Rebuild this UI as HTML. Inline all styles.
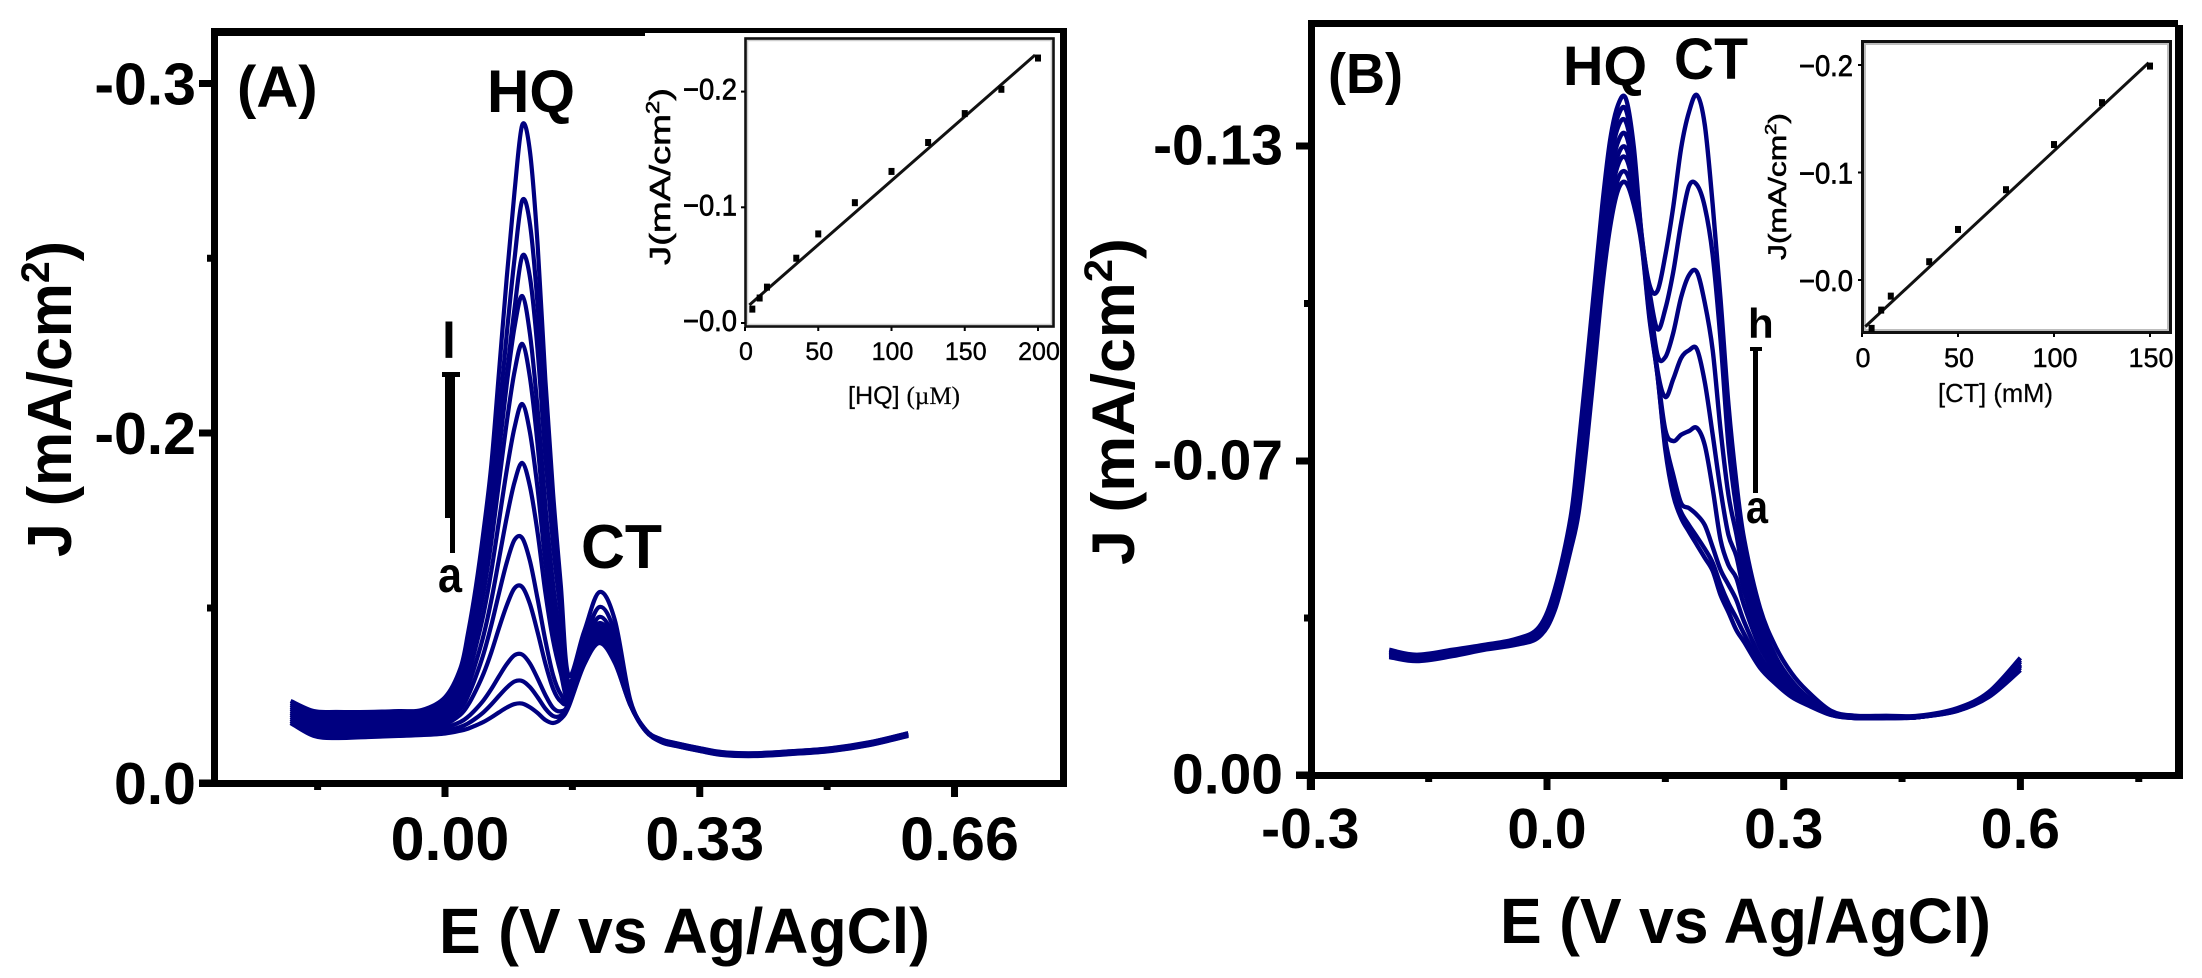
<!DOCTYPE html>
<html lang="en">
<head>
<meta charset="utf-8">
<title>Voltammograms of HQ and CT</title>
<style>
html,body{margin:0;padding:0;background:#fff;}
svg{display:block;}
text{font-family:"Liberation Sans",sans-serif;fill:#000;}
.b{font-weight:bold;}
</style>
</head>
<body>
<svg id="fig" xmlns="http://www.w3.org/2000/svg" width="2202" height="978" viewBox="0 0 2202 978">
  <rect x="0" y="0" width="2202" height="978" fill="#fff"/>

  <g id="panelA">
    <g id="curvesA"></g>
    <rect x="211" y="28" width="7" height="759" fill="#000"/>
    <rect x="1060" y="28" width="7" height="759" fill="#000"/>
    <rect x="211" y="28" width="434" height="8" fill="#000"/>
    <rect x="645" y="28" width="422" height="5" fill="#000"/>
    <rect x="199" y="780" width="868" height="7" fill="#000"/>
    <g id="ticksA"></g>
    <text class="b" x="237" y="107" font-size="58">(A)</text>
    <text class="b" x="487" y="112" font-size="60" textLength="88" lengthAdjust="spacingAndGlyphs">HQ</text>
    <text class="b" x="581" y="568" font-size="62" textLength="81" lengthAdjust="spacingAndGlyphs">CT</text>
    <text class="b" x="449" y="358" font-size="50" text-anchor="middle">l</text>
    <text class="b" x="438" y="592" font-size="50" textLength="24" lengthAdjust="spacingAndGlyphs">a</text>
    <g>
      <rect x="445" y="374" width="10" height="144" fill="#000"/>
      <rect x="450" y="518" width="5" height="35" fill="#000"/>
      <rect x="442" y="372" width="18" height="5" fill="#000"/>
    </g>
    <text class="b" transform="translate(71 557) rotate(-90)" font-size="62" textLength="316" lengthAdjust="spacingAndGlyphs">J (mA/cm<tspan font-size="40" dy="-22">2</tspan><tspan dy="22">)</tspan></text>
    <text class="b" x="439" y="953" font-size="64" textLength="491" lengthAdjust="spacingAndGlyphs">E (V vs Ag/AgCl)</text>
  </g>

  <g id="insetA">
    <rect x="747.5" y="40.5" width="304" height="284" fill="none" stroke="#cfcfcf" stroke-width="1.5"/>
    <rect x="745.5" y="38.5" width="308" height="288" fill="none" stroke="#111" stroke-width="2.6"/>
    <g id="plotInsetA"></g>
    <text transform="translate(670 265) rotate(-90)" font-size="29" textLength="177" lengthAdjust="spacingAndGlyphs" stroke="#000" stroke-width="0.6">J(mA/cm<tspan font-size="18" dy="-11">2</tspan><tspan dy="11">)</tspan></text>
    <text x="848" y="404" font-size="25" textLength="112" lengthAdjust="spacingAndGlyphs" fill="#222" stroke="#222" stroke-width="0.3">[HQ] <tspan style="font-family:'Liberation Serif',serif">(µM)</tspan></text>
  </g>

  <g id="panelB">
    <g id="curvesB"></g>
    <rect x="1308" y="20" width="7" height="770" fill="#000"/>
    <rect x="2175" y="25" width="8" height="754" fill="#000"/>
    <rect x="1308" y="20" width="870" height="7" fill="#000"/>
    <rect x="1296" y="772" width="887" height="7" fill="#000"/>
    <g id="ticksB"></g>
    <text class="b" x="1328" y="93" font-size="57" textLength="75" lengthAdjust="spacingAndGlyphs">(B)</text>
    <text class="b" x="1563" y="85" font-size="56" textLength="84" lengthAdjust="spacingAndGlyphs">HQ</text>
    <text class="b" x="1674" y="79" font-size="58" textLength="74" lengthAdjust="spacingAndGlyphs">CT</text>
    <text class="b" x="1748" y="338" font-size="42">h</text>
    <text class="b" x="1746" y="523" font-size="46" textLength="22" lengthAdjust="spacingAndGlyphs">a</text>
    <g>
      <rect x="1753" y="348" width="5" height="145" fill="#000"/>
      <rect x="1750" y="347" width="12" height="4" fill="#000"/>
    </g>
    <text class="b" transform="translate(1134 565) rotate(-90)" font-size="60" textLength="327" lengthAdjust="spacingAndGlyphs">J (mA/cm<tspan font-size="40" dy="-22">2</tspan><tspan dy="22">)</tspan></text>
    <text class="b" x="1500" y="943" font-size="64" textLength="491" lengthAdjust="spacingAndGlyphs">E (V vs Ag/AgCl)</text>
  </g>

  <g id="insetB">
    <rect x="1865" y="44" width="303" height="286" fill="none" stroke="#bdbdbd" stroke-width="2"/>
    <rect x="1862.5" y="41.5" width="308" height="291" fill="none" stroke="#111" stroke-width="3"/>
    <g id="plotInsetB"></g>
    <text transform="translate(1786 260) rotate(-90)" font-size="25" textLength="147" lengthAdjust="spacingAndGlyphs" stroke="#000" stroke-width="0.6">J(mA/cm<tspan font-size="16" dy="-10">2</tspan><tspan dy="10">)</tspan></text>
    <text x="1938" y="402" font-size="26" textLength="115" lengthAdjust="spacingAndGlyphs" fill="#222" stroke="#222" stroke-width="0.3">[CT] (mM)</text>
  </g>
</svg>

<script>
/* ---------- Panel A data: potential (V) and |J| (mA/cm2) for curves a..l ---------- */
const eA = [-0.2,-0.17,-0.14,-0.1,-0.06,-0.03,0,0.02,0.03,0.04,0.05,0.06,0.07,0.08,0.09,0.1,0.11,0.12,0.13,0.14,0.15,0.16,0.18,0.2,0.22,0.24,0.26,0.28,0.3,0.33,0.36,0.4,0.45,0.5,0.55,0.6];
const curveA_a = [.0343,.0269,.0257,.0263,.0269,.0274,.0283,.0299,.0311,.0329,.0349,.0375,.0404,.0431,.0451,.0454,.0433,.0400,.0360,.0343,.0366,.0434,.0674,.0800,.0686,.0446,.0297,.0234,.0211,.0183,.0160,.0154,.0166,.0183,.0217,.0269];
const curveA_b = [.0354,.0280,.0269,.0274,.0280,.0286,.0297,.0321,.0341,.0370,.0405,.0449,.0498,.0545,.0580,.0583,.0548,.0490,.0425,.0383,.0385,.0442,.0678,.0806,.0691,.0446,.0297,.0235,.0212,.0184,.0161,.0155,.0167,.0184,.0218,.0270];
const curveA_c = [.0366,.0297,.0286,.0291,.0297,.0303,.0317,.0349,.0379,.0422,.0473,.0537,.0610,.0679,.0730,.0734,.0683,.0597,.0503,.0429,.0410,.0451,.0686,.0817,.0701,.0447,.0297,.0237,.0214,.0186,.0163,.0157,.0169,.0186,.0220,.0272];
const curveA_d = [.0377,.0309,.0297,.0303,.0309,.0314,.0336,.0391,.0447,.0529,.0626,.0747,.0886,.1015,.1113,.1120,.1023,.0861,.0683,.0539,.0466,.0470,.0691,.0829,.0709,.0449,.0297,.0238,.0215,.0187,.0164,.0158,.0170,.0187,.0221,.0273];
const curveA_e = [.0389,.0320,.0309,.0314,.0320,.0326,.0353,.0424,.0500,.0609,.0739,.0902,.1086,.1260,.1389,.1400,.1269,.1051,.0815,.0617,.0507,.0483,.0701,.0840,.0720,.0450,.0297,.0240,.0217,.0189,.0166,.0160,.0172,.0189,.0223,.0275];
const curveA_f = [.0400,.0331,.0320,.0326,.0331,.0337,.0373,.0458,.0556,.0689,.0845,.1044,.1281,.1518,.1718,.1829,.1695,.1429,.1089,.0816,.0627,.0490,.0711,.0857,.0734,.0451,.0300,.0241,.0218,.0190,.0167,.0161,.0173,.0190,.0224,.0276];
const curveA_g = [.0411,.0349,.0337,.0343,.0349,.0354,.0396,.0499,.0618,.0780,.0969,.1211,.1500,.1788,.2015,.2083,.2002,.1680,.1266,.0930,.0689,.0505,.0723,.0874,.0749,.0453,.0300,.0243,.0220,.0192,.0169,.0163,.0175,.0192,.0226,.0278];
const curveA_h = [.0423,.0360,.0349,.0354,.0360,.0366,.0414,.0535,.0675,.0867,.1091,.1379,.1720,.2031,.2175,.2255,.2159,.1933,.1443,.1045,.0753,.0520,.0734,.0891,.0763,.0455,.0300,.0244,.0221,.0193,.0170,.0164,.0176,.0193,.0227,.0279];
const curveA_i = [.0434,.0371,.0360,.0366,.0371,.0377,.0431,.0566,.0724,.0939,.1191,.1514,.1897,.2140,.2302,.2392,.2284,.2068,.1586,.1137,.0803,.0535,.0749,.0914,.0783,.0457,.0303,.0246,.0223,.0195,.0172,.0166,.0178,.0195,.0229,.0281];
const curveA_j = [.0446,.0383,.0371,.0377,.0383,.0389,.0447,.0578,.0738,.0943,.1194,.1489,.1906,.2164,.2355,.2506,.2446,.2236,.1869,.1362,.0960,.0552,.0771,.0949,.0811,.0461,.0303,.0247,.0224,.0196,.0173,.0167,.0179,.0196,.0230,.0282];
const curveA_k = [.0457,.0400,.0389,.0394,.0400,.0406,.0470,.0616,.0794,.1023,.1303,.1631,.2048,.2284,.2497,.2665,.2599,.2365,.2028,.1488,.1033,.0578,.0808,.1006,.0861,.0466,.0303,.0249,.0226,.0198,.0175,.0169,.0181,.0198,.0232,.0284];
const curveA_l = [.0469,.0411,.0406,.0406,.0411,.0417,.0490,.0656,.0861,.1122,.1443,.1818,.2176,.2445,.2689,.2881,.2806,.2538,.2152,.1655,.1130,.0617,.0863,.1091,.0931,.0474,.0303,.0250,.0227,.0199,.0176,.0170,.0182,.0199,.0233,.0285];
const seriesA = [curveA_a,curveA_b,curveA_c,curveA_d,curveA_e,curveA_f,curveA_g,curveA_h,curveA_i,curveA_j,curveA_k,curveA_l];
const seriesLabelsA = ['a','b','c','d','e','f','g','h','i','j','k','l'];
const xTicksA = [0,0.33,0.66];
const xTickLabelsA = ['0.00','0.33','0.66'];
const xMinorA = [-0.165,0.165,0.495];
const yTicksA = [0,0.2,0.3];
const yTickLabelsA = ['0.0','-0.2','-0.3'];
const yMinorA = [0.1,0.25];

/* ---------- Panel B data: potential (V) and |J| (mA/cm2) for curves a..h ---------- */
const eB = [-0.2,-0.165,-0.12,-0.08,-0.04,-0.01,0.01,0.03,0.04,0.05,0.06,0.07,0.08,0.09,0.1,0.11,0.12,0.13,0.14,0.15,0.16,0.17,0.18,0.19,0.2,0.21,0.22,0.23,0.24,0.25,0.27,0.29,0.31,0.33,0.36,0.39,0.43,0.47,0.52,0.56,0.6];
const curveB_a = [.0263,.0254,.0265,.0279,.0290,.0308,.0368,.0502,.0584,.0727,.0877,.1031,.1146,.1216,.1230,.1188,.1111,.0969,.0864,.0721,.0624,.0573,.0542,.0513,.0484,.0455,.0401,.0363,.0323,.0296,.0239,.0203,.0174,.0156,.0134,.0127,.0127,.0129,.0143,.0174,.0234];
const curveB_b = [.0265,.0256,.0268,.0281,.0292,.0310,.0375,.0511,.0604,.0746,.0898,.1052,.1167,.1237,.1250,.1203,.1115,.0974,.0864,.0727,.0635,.0586,.0557,.0531,.0504,.0473,.0424,.0383,.0350,.0314,.0250,.0210,.0178,.0158,.0134,.0127,.0127,.0129,.0143,.0176,.0239];
const curveB_c = [.0268,.0259,.0270,.0283,.0294,.0314,.0381,.0524,.0629,.0772,.0923,.1077,.1195,.1264,.1277,.1220,.1117,.0982,.0866,.0740,.0669,.0606,.0595,.0580,.0557,.0508,.0457,.0424,.0390,.0341,.0265,.0218,.0183,.0161,.0136,.0127,.0127,.0129,.0145,.0176,.0243];
const curveB_d = [.0270,.0261,.0272,.0283,.0296,.0317,.0388,.0533,.0646,.0790,.0942,.1096,.1216,.1283,.1296,.1233,.1119,.0988,.0868,.0759,.0738,.0750,.0757,.0763,.0730,.0638,.0524,.0468,.0439,.0377,.0285,.0230,.0187,.0163,.0136,.0129,.0129,.0129,.0145,.0178,.0245];
const curveB_e = [.0272,.0263,.0272,.0285,.0296,.0321,.0395,.0544,.0669,.0812,.0965,.1119,.1241,.1308,.1321,.1250,.1123,.0997,.0873,.0822,.0856,.0896,.0911,.0913,.0850,.0750,.0635,.0535,.0488,.0410,.0305,.0241,.0196,.0167,.0138,.0129,.0129,.0129,.0145,.0178,.0247];
const curveB_f = [.0274,.0263,.0274,.0288,.0299,.0323,.0401,.0555,.0691,.0837,.0990,.1144,.1268,.1336,.1346,.1268,.1125,.1009,.0902,.0898,.0944,.1012,.1054,.1060,.1001,.0911,.0759,.0624,.0537,.0444,.0325,.0252,.0205,.0172,.0140,.0129,.0129,.0129,.0147,.0181,.0252];
const curveB_g = [.0276,.0265,.0276,.0288,.0301,.0328,.0408,.0566,.0710,.0858,.1010,.1165,.1291,.1357,.1369,.1283,.1129,.1022,.0951,.0990,.1060,.1153,.1224,.1226,.1184,.1092,.0930,.0730,.0593,.0484,.0348,.0263,.0210,.0174,.0140,.0132,.0129,.0129,.0147,.0183,.0256];
const curveB_h = [.0279,.0268,.0279,.0290,.0303,.0330,.0415,.0575,.0727,.0877,.1031,.1186,.1311,.1378,.1390,.1298,.1130,.1035,.1024,.1092,.1184,.1296,.1365,.1397,.1340,.1188,.1007,.0807,.0653,.0524,.0372,.0285,.0227,.0187,.0143,.0132,.0132,.0132,.0149,.0185,.0261];
const seriesB = [curveB_a,curveB_b,curveB_c,curveB_d,curveB_e,curveB_f,curveB_g,curveB_h];
const seriesLabelsB = ['a','b','c','d','e','f','g','h'];
const xTicksB = [-0.3,0,0.3,0.6];
const xTickLabelsB = ['-0.3','0.0','0.3','0.6'];
const xMinorB = [-0.15,0.15,0.45,0.75];
const yTicksB = [0,0.07,0.13];
const yTickLabelsB = ['0.00','-0.07','-0.13'];
const yMinorB = [0.035,0.1];

/* ---------- Inset A data: calibration for HQ ---------- */
const concA = [5,10,15,35,50,75,100,125,150,175,200];
const jInsetA = [-0.012,-0.0216,-0.031,-0.056,-0.077,-0.104,-0.131,-0.156,-0.181,-0.202,-0.229];
const fitConcA = [3,198];
const fitJA = [-0.0156,-0.2316];
const insetXTicksA = [0,50,100,150,200];
const insetYTicksA = [0,-0.1,-0.2];
const insetYLabelsA = ['\u22120.0','\u22120.1','\u22120.2'];

/* ---------- Inset B data: calibration for CT ---------- */
const concB = [5,10,15,35,50,75,100,125,150];
const jInsetB = [0.045,0.028,0.015,-0.017,-0.047,-0.084,-0.126,-0.165,-0.199];
const fitConcB = [1.7,149.3];
const fitJB = [0.0434,-0.2021];
const insetXTicksB = [0,50,100,150];
const insetYTicksB = [0,-0.1,-0.2];
const insetYLabelsB = ['\u22120.0','\u22120.1','\u22120.2'];

/* ---------- Axis functions ---------- */
function xA(e){ return 445 + 772 * e; }
function xB(e){ return 1547 + 789 * e; }
/* The printed J axes are not evenly valued, so each is piecewise between its labelled ticks. */
function yA(j){ return j <= 0.2 ? 783 - j * 1750 : 433 - (j - 0.2) * 3495; }
function yB(j){ return j <= 0.07 ? 775 - j * (314 / 0.07) : 461 - (j - 0.07) * (315 / 0.06); }
function insetAx(c){ return 745 + c * 1.465; }
function insetAy(j){ return 323 + j * 1157; }
function insetBx(c){ return 1862 + c * 1.92; }
function insetBy(j){ return 280 + j * 1075; }

var NS = 'http://www.w3.org/2000/svg';
function svgEl(tag, parent){
  var el = document.createElementNS(NS, tag);
  parent.appendChild(el);
  return el;
}
function rectMark(parent, x, y, w, h, name){
  var r = svgEl('rect', parent);
  r.setAttribute('x', x); r.setAttribute('y', y);
  r.setAttribute('width', w); r.setAttribute('height', h);
  r.setAttribute('fill', '#000');
  
  
  return r;
}
function label(parent, str, x, y, size, anchor, bold, name){
  var t = svgEl('text', parent);
  t.setAttribute('x', x); t.setAttribute('y', y);
  t.setAttribute('font-size', size);
  t.setAttribute('text-anchor', anchor);
  if (bold) t.setAttribute('font-weight', 'bold');
  
  
  t.textContent = str;
  return t;
}
function smoothPath(xs, ys){
  var d = 'M' + xs[0].toFixed(2) + ' ' + ys[0].toFixed(2);
  for (var i = 0; i < xs.length - 1; i++){
    var x0 = xs[Math.max(i - 1, 0)], y0 = ys[Math.max(i - 1, 0)];
    var x1 = xs[i], y1 = ys[i], x2 = xs[i + 1], y2 = ys[i + 1];
    var x3 = xs[Math.min(i + 2, xs.length - 1)], y3 = ys[Math.min(i + 2, xs.length - 1)];
    var c1x = x1 + (x2 - x0) / 6, c1y = y1 + (y2 - y0) / 6;
    var c2x = x2 - (x3 - x1) / 6, c2y = y2 - (y3 - y1) / 6;
    d += 'C' + c1x.toFixed(2) + ' ' + c1y.toFixed(2) + ' ' + c2x.toFixed(2) + ' ' + c2y.toFixed(2) + ' ' + x2.toFixed(2) + ' ' + y2.toFixed(2);
  }
  return d;
}
function drawCurves(groupId, es, series, names, fx, fy, prefix, width){
  var g = document.getElementById(groupId);
  series.forEach(function(vals, k){
    var p = svgEl('path', g);
    p.setAttribute('d', smoothPath(es.map(fx), vals.map(fy)));
    p.setAttribute('fill', 'none');
    p.setAttribute('stroke', '#000080');
    p.setAttribute('stroke-width', width);
    p.setAttribute('stroke-linejoin', 'round');
    
    
  });
}
drawCurves('curvesA', eA, seriesA, seriesLabelsA, xA, yA, 'panel-a', 4.2);
drawCurves('curvesB', eB, seriesB, seriesLabelsB, xB, yB, 'panel-b', 4.4);

/* Panel A ticks */
(function(){
  var g = document.getElementById('ticksA');
  xTicksA.forEach(function(v, i){
    rectMark(g, xA(v) - 3.5, 787, 7, 10, 'panel-a-x-tick');
    label(g, xTickLabelsA[i], xA(v) + 5, 860, 61, 'middle', true, 'panel-a-x-tick-label');
  });
  xMinorA.forEach(function(v){ rectMark(g, xA(v) - 3.5, 787, 7, 3, 'panel-a-x-minor-tick'); });
  yTicksA.forEach(function(v, i){
    rectMark(g, 199, yA(v) - 3.5, 13, 7, 'panel-a-y-tick');
    label(g, yTickLabelsA[i], 196, yA(v) + 21, 59, 'end', true, 'panel-a-y-tick-label');
  });
  yMinorA.forEach(function(v){ rectMark(g, 207, yA(v) - 3.5, 5, 7, 'panel-a-y-minor-tick'); });
})();

/* Panel B ticks */
(function(){
  var g = document.getElementById('ticksB');
  xTicksB.forEach(function(v, i){
    rectMark(g, xB(v) - 3.5, 779, 7, 11, 'panel-b-x-tick');
    label(g, xTickLabelsB[i], xB(v), 848, 57, 'middle', true, 'panel-b-x-tick-label');
  });
  xMinorB.forEach(function(v){ rectMark(g, xB(v) - 3.5, 779, 7, 3, 'panel-b-x-minor-tick'); });
  yTicksB.forEach(function(v, i){
    rectMark(g, 1296, yB(v) - 3.5, 12, 7, 'panel-b-y-tick');
    label(g, yTickLabelsB[i], 1283, yB(v) + 18.5, 57, 'end', true, 'panel-b-y-tick-label');
  });
  yMinorB.forEach(function(v){ rectMark(g, 1304, yB(v) - 3.5, 5, 7, 'panel-b-y-minor-tick'); });
})();

/* Insets */
function drawInset(groupId, cs, js, fitC, fitJ, xTicks, yTicks, yLabels, fx, fy, opt){
  var g = document.getElementById(groupId);
  var line = svgEl('line', g);
  line.setAttribute('x1', fx(fitC[0])); line.setAttribute('y1', fy(fitJ[0]));
  line.setAttribute('x2', fx(fitC[1])); line.setAttribute('y2', fy(fitJ[1]));
  line.setAttribute('stroke', '#111');
  line.setAttribute('stroke-width', '3');
  
  
  cs.forEach(function(c, i){
    rectMark(g, fx(c) - 3, fy(js[i]) - 3.5, 6, 7, opt.prefix + '-data-point');
  });
  xTicks.forEach(function(v){
    rectMark(g, fx(v) - 1, opt.bottom, 2, 4, opt.prefix + '-x-tick');
    var xl = label(g, String(v), fx(v) + 1, opt.xBase, opt.xSize, 'middle', false, opt.prefix + '-x-tick-label');
    xl.setAttribute('stroke', '#000');
    xl.setAttribute('stroke-width', '0.4');
  });
  yTicks.forEach(function(v, i){
    rectMark(g, opt.left - 4, fy(v) - 1, 4, 2, opt.prefix + '-y-tick');
    var t = label(g, yLabels[i], opt.yRight, fy(v) + opt.yOff, 30, 'end', false, opt.prefix + '-y-tick-label');
    t.setAttribute('textLength', '54');
    t.setAttribute('lengthAdjust', 'spacingAndGlyphs');
    t.setAttribute('stroke', '#000');
    t.setAttribute('stroke-width', '0.7');
  });
}
drawInset('plotInsetA', concA, jInsetA, fitConcA, fitJA, insetXTicksA, insetYTicksA, insetYLabelsA, insetAx, insetAy,
  {prefix:'inset-a', bottom:327, xBase:360, xSize:25, left:745, yRight:737, yOff:8});
drawInset('plotInsetB', concB, jInsetB, fitConcB, fitJB, insetXTicksB, insetYTicksB, insetYLabelsB, insetBx, insetBy,
  {prefix:'inset-b', bottom:333, xBase:367, xSize:27, left:1862, yRight:1853, yOff:11});
</script>
</body>
</html>
